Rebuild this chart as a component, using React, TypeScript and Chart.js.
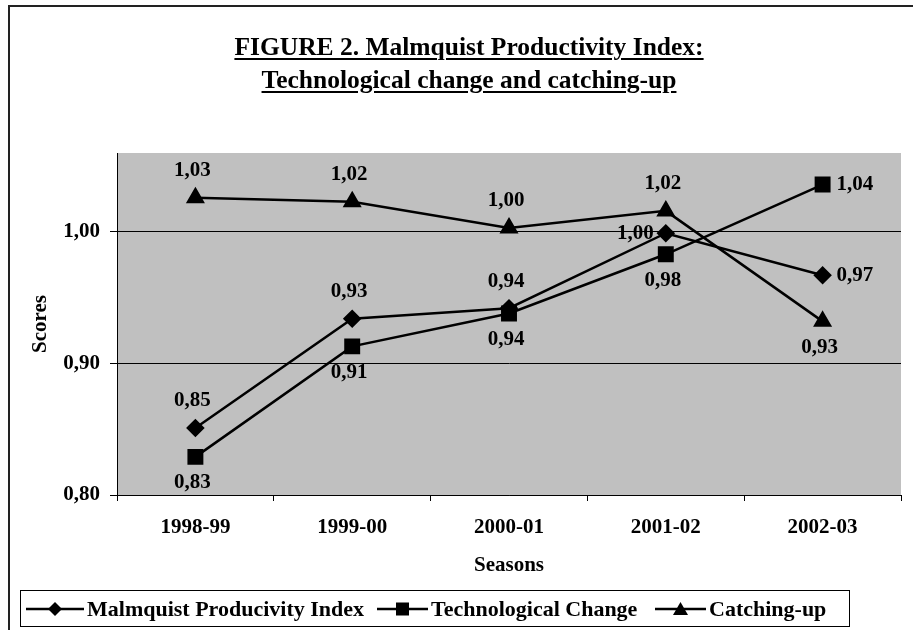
import React, { useEffect, useRef } from "react";
import { Chart, registerables } from "chart.js";

Chart.register(...registerables);

const categories = ["1998-99", "1999-00", "2000-01", "2001-02", "2002-03"];
const malmquist = [0.851, 0.934, 0.942, 0.999, 0.967];
const techChange = [0.829, 0.913, 0.938, 0.983, 1.036];
const catchingUp = [1.026, 1.023, 1.003, 1.016, 0.932];
const malmquistLabelPos = ["top", "top", "top", "left", "right"];
const techLabelPos = ["bottom", "bottom", "bottom", "bottom", "right"];
const catchLabelPos = ["top", "top", "top", "top", "bottom"];
const seriesNames = ["Malmquist Producivity Index", "Technological Change", "Catching-up"];
const titleLines = ["FIGURE 2. Malmquist Productivity Index:", "Technological change and catching-up"];
const yMin = 0.8;
const yMax = 1.06;
const yStep = 0.1;

const SERIF = "'Liberation Serif', 'Times New Roman', serif";
const fmt = (v: number) => v.toFixed(2).replace(".", ",");

const labelPlugin = {
  id: "pointLabels",
  afterDatasetsDraw(chart: any) {
    const ctx = chart.ctx;
    ctx.save();
    ctx.font = `bold 21px ${SERIF}`;
    ctx.fillStyle = "#000";
    chart.data.datasets.forEach((ds: any, di: number) => {
      const meta = chart.getDatasetMeta(di);
      meta.data.forEach((pt: any, i: number) => {
        const pos = ds.labelPos[i];
        const txt = fmt(ds.data[i]);
        let x = pt.x;
        let y = pt.y;
        ctx.textBaseline = "middle";
        if (pos === "top") {
          ctx.textAlign = "center";
          y -= 27;
          x -= 3;
        } else if (pos === "bottom") {
          ctx.textAlign = "center";
          y += 26;
          x -= 3;
        } else if (pos === "left") {
          ctx.textAlign = "right";
          x -= 12;
        } else {
          ctx.textAlign = "left";
          x += 14;
        }
        ctx.fillText(txt, x, y);
      });
    });
    ctx.restore();
  },
};

const bgPlugin = {
  id: "plotBg",
  beforeDraw(chart: any) {
    const { ctx, chartArea } = chart;
    ctx.save();
    ctx.fillStyle = "#C0C0C0";
    ctx.fillRect(chartArea.left, chartArea.top, chartArea.right - chartArea.left, chartArea.bottom - chartArea.top);
    ctx.restore();
  },
};

function LegendIcon({ kind, width }: { kind: string; width: number }) {
  const c = width / 2;
  let marker: any = null;
  if (kind === "diamond") {
    marker = <polygon points={`${c},3 ${c + 7},10 ${c},17 ${c - 7},10`} fill="#000" />;
  } else if (kind === "square") {
    marker = <rect x={c - 6.5} y={3.5} width={13} height={13} fill="#000" />;
  } else {
    marker = <polygon points={`${c},3 ${c + 7.5},16 ${c - 7.5},16`} fill="#000" />;
  }
  return (
    <svg width={width} height={20} style={{ display: "block" }}>
      <line x1={0} y1={10} x2={width} y2={10} stroke="#000" strokeWidth={2.5} />
      {marker}
    </svg>
  );
}

export default function App() {
  const canvasRef = useRef<HTMLCanvasElement | null>(null);

  useEffect(() => {
    if (!canvasRef.current) return;
    const common = {
      borderColor: "#000",
      backgroundColor: "#000",
      pointBackgroundColor: "#000",
      pointBorderColor: "#000",
      borderWidth: 2.5,
      tension: 0,
      fill: false,
    };
    const chart = new Chart(canvasRef.current, {
      type: "line",
      data: {
        labels: categories,
        datasets: [
          { ...common, label: seriesNames[0], data: malmquist, pointStyle: "rectRot", pointRadius: 7.5, labelPos: malmquistLabelPos } as any,
          { ...common, label: seriesNames[1], data: techChange, pointStyle: "rect", pointRadius: 9.5, labelPos: techLabelPos } as any,
          { ...common, label: seriesNames[2], data: catchingUp, pointStyle: "triangle", pointRadius: 8.5, labelPos: catchLabelPos } as any,
        ],
      },
      options: {
        animation: false,
        responsive: false,
        maintainAspectRatio: false,
        layout: { padding: { left: 28, top: 153, right: 7, bottom: 45 } },
        plugins: {
          legend: { display: false },
          title: { display: false },
          tooltip: { enabled: false },
        },
        scales: {
          x: {
            type: "category",
            offset: true,
            afterFit(scale: any) {
              scale.height = 90;
            },
            grid: { offset: true, drawOnChartArea: false, drawTicks: true, tickLength: 6, color: "#000", lineWidth: 1 },
            border: { color: "#000", width: 1 },
            ticks: { color: "#000", font: { family: SERIF, size: 21, weight: "bold" }, padding: 14, maxRotation: 0 },
            title: { display: true, text: "Seasons", color: "#000", font: { family: SERIF, size: 21, weight: "bold" }, padding: { top: 0, bottom: 7 } },
          },
          y: {
            type: "linear",
            min: yMin,
            max: yMax,
            afterFit(scale: any) {
              scale.width = 89;
            },
            grid: { color: "#000", lineWidth: 1, drawTicks: true, tickLength: 7 },
            border: { color: "#000", width: 1 },
            ticks: {
              stepSize: yStep,
              includeBounds: false,
              color: "#000",
              font: { family: SERIF, size: 21, weight: "bold" },
              padding: 10,
              callback: (v: any) => fmt(Number(v)),
            },
            title: { display: true, text: "Scores", color: "#000", font: { family: SERIF, size: 21, weight: "bold" }, padding: { top: 0, bottom: 0 } },
          },
        },
      } as any,
      plugins: [bgPlugin, labelPlugin],
    });
    return () => chart.destroy();
  }, []);

  const legendItems = [
    { kind: "diamond", iconLeft: 26, iconW: 58, textLeft: 87, text: seriesNames[0] },
    { kind: "square", iconLeft: 377, iconW: 51, textLeft: 431, text: seriesNames[1] },
    { kind: "triangle", iconLeft: 655, iconW: 51, textLeft: 709, text: seriesNames[2] },
  ];

  return (
    <div style={{ position: "fixed", left: 0, top: 0, width: 913, height: 630, overflow: "hidden", background: "#fff" }}>
      <canvas ref={canvasRef} width={913} height={630} style={{ position: "absolute", left: 0, top: 0, width: 913, height: 630 }} />
      <div
        style={{
          position: "absolute",
          left: 8,
          top: 5,
          width: 1000,
          height: 1000,
          borderLeft: "2px solid #222",
          borderTop: "2px solid #222",
          pointerEvents: "none",
        }}
      />
      <div
        style={{
          position: "absolute",
          left: 0,
          top: 30,
          width: 938,
          textAlign: "center",
          fontFamily: SERIF,
          fontWeight: "bold",
          fontSize: 25.5,
          lineHeight: "33px",
          color: "#000",
        }}
      >
        {titleLines.map((t) => (
          <div key={t}>
            <span style={{ textDecoration: "underline", textDecorationThickness: "2px", textUnderlineOffset: "3px" }}>{t}</span>
          </div>
        ))}
      </div>
      <div
        style={{
          position: "absolute",
          left: 20,
          top: 590,
          width: 830,
          height: 37,
          boxSizing: "border-box",
          border: "1px solid #000",
          background: "#fff",
        }}
      >
        {legendItems.map((it) => (
          <React.Fragment key={it.text}>
            <div style={{ position: "absolute", left: it.iconLeft - 21, top: 8 }}>
              <LegendIcon kind={it.kind} width={it.iconW} />
            </div>
            <div
              style={{
                position: "absolute",
                left: it.textLeft - 21,
                top: 0,
                height: 35,
                lineHeight: "35px",
                fontFamily: SERIF,
                fontWeight: "bold",
                fontSize: 22,
                color: "#000",
                whiteSpace: "nowrap",
              }}
            >
              {it.text}
            </div>
          </React.Fragment>
        ))}
      </div>
    </div>
  );
}
